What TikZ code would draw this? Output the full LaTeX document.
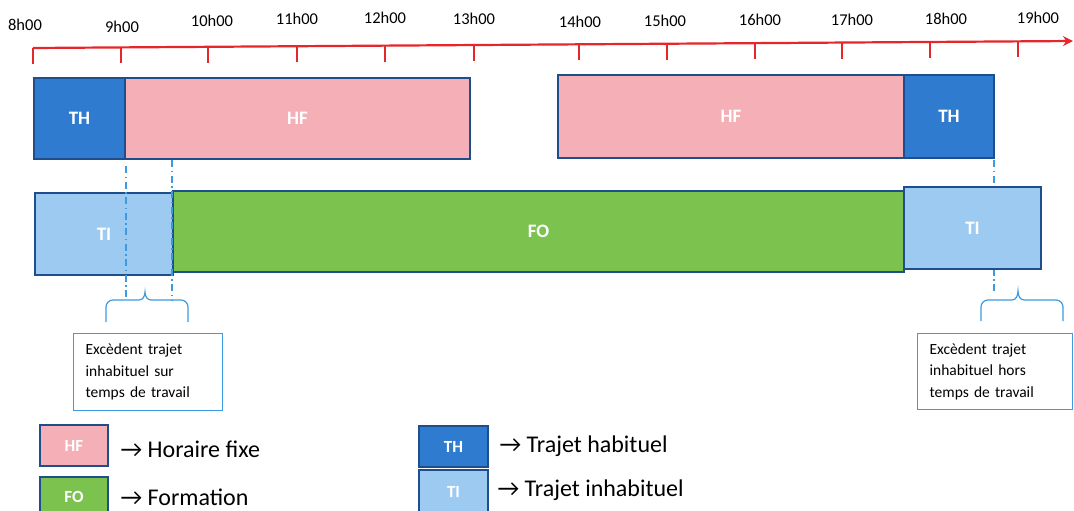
\documentclass[tikz,border=0pt]{standalone}
\usepackage{fontspec}
\setmainfont{Carlito}
\usetikzlibrary{arrows.meta,calc}
\definecolor{navy}{HTML}{1F4E8C}
\definecolor{thblue}{HTML}{2E7BCF}
\definecolor{tiblue}{HTML}{9DCAF0}
\definecolor{hfpink}{HTML}{F4B0B6}
\definecolor{fogreen}{HTML}{7CC24E}
\definecolor{axisred}{HTML}{E5262A}
\definecolor{callblue}{HTML}{3B9AE1}
\tikzset{
  seg/.style={draw=navy, line width=2pt, anchor=north west, inner sep=0pt,
    text=white, font=\fontsize{19}{19}\selectfont\bfseries},
  thseg/.style={seg, fill=thblue},
  tiseg/.style={seg, fill=tiblue},
  hfseg/.style={seg, fill=hfpink},
  foseg/.style={seg, fill=fogreen},
  hour/.style={font=\fontsize{16.5}{16.5}\selectfont, text=black},
  tick/.style={draw=axisred, line width=2.4pt},
  guide/.style={draw=callblue, line width=1.4pt, dash pattern=on 7pt off 3.5pt on 1.5pt off 3.5pt},
  callout/.style={draw=callblue, line width=1.2pt},
  notebox/.style={callout, anchor=north west, inner xsep=12pt, inner ysep=0pt, align=left,
    font=\fontsize{15.5}{21.5}\selectfont, text=black},
  keybox/.style={draw=navy, line width=2pt, anchor=north west, inner sep=0pt,
    text=white, font=\fontsize{17}{17}\selectfont\bfseries},
  keytext/.style={anchor=base west, font=\fontsize{24}{24}\selectfont, text=black},
}
\begin{document}
\begin{tikzpicture}[x=1pt, y=-1pt]
\useasboundingbox (0,0) rectangle (1074,511);

% time axis
\coordinate (a0) at (33,48);
\coordinate (a1) at (1073,41);
\draw[axisred, line width=2.2pt, -{Stealth[length=10pt,width=10pt]}] (a0) -- (a1);
\foreach \x/\lab/\lx/\ly in {33/8h00/25/25, 121/9h00/122/27, 208/10h00/212/21,
    297/11h00/297/19, 385/12h00/385/18, 474/13h00/474/19, 579/14h00/580/22,
    667/15h00/665/21, 755/16h00/760/20, 842/17h00/852/20, 930/18h00/946/19,
    1018/19h00/1038/18}{
  \coordinate (k\x) at ($(a0)!{(\x-33)/1040}!(a1)$);
  \draw[tick] (k\x) -- ++(0,16);
  \node[hour] (h\x) at (\lx,\ly) {\lab};
}

% usual working day
\node[thseg, minimum width=91pt, minimum height=81pt] (th1) at (33,77) {TH};
\node[hfseg, minimum width=345pt, minimum height=81pt] (hf1) at (124,77) {HF};
\node[hfseg, minimum width=346pt, minimum height=83pt] (hf2) at (557,74) {HF};
\node[thseg, minimum width=90pt, minimum height=83pt] (th2) at (903,74) {TH};

% right guide line, passing behind the last box
\coordinate (g3a) at (994,160);
\coordinate (g3b) at (994,291);
\draw[guide] (g3a) -- (g3b);

% day with training
\node[tiseg, minimum width=138pt, minimum height=82pt] (ti1) at (34,192) {TI};
\node[foseg, minimum width=731pt, minimum height=81pt] (fo) at (172,190) {FO};
\node[tiseg, minimum width=137pt, minimum height=82pt] (ti2) at (903,186) {TI};

\coordinate (g1a) at (126,166);
\coordinate (g1b) at (126,300);
\coordinate (g2a) at (172,160);
\coordinate (g2b) at (172,300);
\draw[guide] (g1a) -- (g1b);
\draw[guide] (g2a) -- (g2b);

% braces
\draw[callout] (106,322) -- (106,307) to[out=90,in=180] (113,300) -- (139,300)
  to[out=0,in=-90] (145,292) to[out=-90,in=180] (151,300) -- (181,300)
  to[out=0,in=90] (188,307) -- (188,322);
\draw[callout] (981,321) -- (981,307) to[out=90,in=180] (988,300) -- (1012,300)
  to[out=0,in=-90] (1018,291) to[out=-90,in=180] (1024,300) -- (1056,300)
  to[out=0,in=90] (1063,307) -- (1063,321);

% notes
\node[notebox, minimum width=149pt, minimum height=77pt, text width=125pt]
  (n1) at (73,333) {Excèdent trajet\\inhabituel sur\\temps de travail};
\node[notebox, minimum width=155pt, minimum height=76pt, text width=131pt]
  (n2) at (917,333) {Excèdent trajet\\inhabituel hors\\temps de travail};

% legend
\node[keybox, fill=hfpink, minimum width=68pt, minimum height=41pt] (khf) at (39,424) {HF};
\node[keybox, fill=fogreen, minimum width=68pt, minimum height=40pt] (kfo) at (39,476) {FO};
\node[keybox, fill=thblue, minimum width=69pt, minimum height=41pt] (kth) at (418,425) {TH};
\node[keybox, fill=tiblue, minimum width=69pt, minimum height=44pt] (kti) at (418,469) {TI};
\node[keytext] (lhf) at (117,457) {→ Horaire fixe};
\node[keytext] (lfo) at (117,505) {→ Formation};
\node[keytext] (lth) at (496,452) {→ Trajet habituel};
\node[keytext] (lti) at (494,496) {→ Trajet inhabituel};
\end{tikzpicture}
\end{document}
